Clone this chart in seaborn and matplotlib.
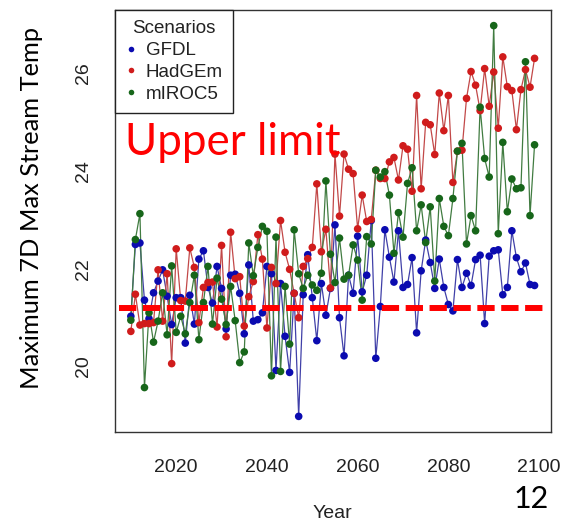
import numpy as np
import pandas as pd
import seaborn as sns
import matplotlib
matplotlib.use("Agg")
import matplotlib.pyplot as plt
from matplotlib.lines import Line2D

# ---- data -----------------------------------------------------------------
years = list(range(2010, 2100))

gfdl = [21.03, 22.50, 22.53, 21.36, 20.98, 21.51, 21.75, 21.98, 21.44, 20.86,
        21.41, 21.41, 20.48, 21.46, 20.87, 22.20, 22.37, 21.62, 21.30, 22.05,
        21.60, 20.77, 21.87, 21.89, 21.50, 20.67, 22.08, 20.93, 20.96, 21.10,
        22.05, 21.90, 19.92, 21.70, 20.62, 19.88, 21.50, 18.98, 21.47, 22.29,
        21.41, 20.53, 21.70, 21.05, 21.60, 22.90, 21.00, 20.22, 21.87, 21.50,
        22.67, 21.53, 21.87, 22.99, 20.17, 21.23, 22.80, 22.24, 21.73, 22.78,
        21.62, 21.68, 22.23, 20.69, 21.96, 22.59, 22.13, 21.60, 22.20, 21.62,
        21.27, 21.14, 22.19, 21.62, 21.91, 21.66, 22.19, 22.28, 20.88, 22.26,
        22.37, 22.39, 21.47, 21.62, 22.78, 22.23, 21.94, 22.12, 21.68, 21.66]

hadgem = [20.72, 21.48, 20.85, 20.88, 20.88, 20.90, 21.98, 20.93, 21.90, 20.06,
          22.41, 21.35, 21.34, 22.43, 22.03, 20.90, 21.62, 21.72, 21.73, 20.81,
          22.48, 20.61, 22.75, 21.80, 21.84, 20.83, 21.43, 21.74, 22.70, 22.20,
          20.79, 22.03, 21.70, 22.99, 22.34, 21.99, 21.50, 21.00, 22.05, 22.21,
          22.44, 23.74, 22.35, 22.81, 21.61, 24.35, 23.08, 24.35, 24.04, 23.95,
          22.82, 23.51, 22.97, 23.01, 24.02, 23.85, 23.85, 24.19, 24.28, 23.82,
          24.52, 24.45, 23.59, 25.55, 23.64, 25.00, 24.95, 24.34, 25.60, 24.83,
          25.55, 23.77, 24.41, 24.43, 25.49, 26.04, 25.76, 25.24, 26.10, 25.33,
          26.03, 24.88, 26.34, 25.73, 25.65, 24.85, 25.67, 26.08, 25.72, 26.31]

miroc5 = [20.95, 22.60, 23.13, 19.57, 21.10, 20.50, 20.93, 21.51, 20.65, 22.06,
          20.70, 21.03, 20.67, 21.31, 21.87, 20.55, 21.31, 22.05, 20.87, 21.81,
          21.38, 20.86, 21.64, 20.94, 20.08, 20.30, 22.53, 21.86, 22.44, 22.87,
          22.77, 19.81, 22.65, 19.90, 21.64, 20.46, 22.80, 21.90, 21.60, 21.87,
          21.67, 21.56, 21.91, 23.80, 22.30, 21.72, 22.63, 21.79, 21.87, 22.49,
          22.18, 21.36, 22.66, 22.51, 24.02, 23.88, 23.99, 23.51, 22.32, 23.15,
          22.65, 23.75, 24.07, 22.78, 23.31, 22.54, 23.27, 21.75, 23.44, 22.87,
          22.68, 23.44, 24.41, 24.57, 22.51, 23.09, 22.78, 25.31, 24.26, 23.88,
          26.98, 22.72, 24.59, 23.17, 23.84, 23.64, 23.66, 26.24, 23.09, 24.54]

scenarios = ["GFDL", "HadGEm", "mIROC5"]
upper_limit = 21.2
x_ticks = [2020, 2040, 2060, 2080, 2100]
y_ticks = [20, 22, 24, 26]

df = pd.DataFrame({
    "Year": years * 3,
    "Temp": gfdl + hadgem + miroc5,
    "Scenario": [s for s in scenarios for _ in years],
})

point_colors = {"GFDL": "#0b0bb0", "HadGEm": "#d01c1c", "mIROC5": "#17661a"}
line_colors = {"GFDL": "#4040a8", "HadGEm": "#c24848", "mIROC5": "#417c41"}

# ---- figure ---------------------------------------------------------------
sns.set_style("white")
plt.rcParams["font.family"] = ["Liberation Sans", "DejaVu Sans"]

fig = plt.figure(figsize=(5.61, 5.22), dpi=100)
ax = fig.add_axes([114.7 / 561, 1 - 432 / 522, 436 / 561, 422 / 522])

sns.lineplot(data=df, x="Year", y="Temp", hue="Scenario", palette=line_colors,
             hue_order=scenarios, linewidth=0.9, legend=False, ax=ax,
             estimator=None, sort=True)
sns.scatterplot(data=df, x="Year", y="Temp", hue="Scenario", palette=point_colors,
                hue_order=scenarios, s=30, linewidth=0, legend=False, ax=ax,
                zorder=3)

# R-style 4% padding on both axes
xmin, xmax = min(years), max(years)
allv = gfdl + hadgem + miroc5
ymin, ymax = min(allv), max(allv)
ax.set_xlim(xmin - 0.04 * (xmax - xmin), xmax + 0.04 * (xmax - xmin))
ax.set_ylim(ymin - 0.04 * (ymax - ymin), ymax + 0.04 * (ymax - ymin))

ax.set_xticks(x_ticks)
ax.set_yticks(y_ticks)
ax.set_xticklabels([str(t) for t in x_ticks])
ax.set_yticklabels([str(t) for t in y_ticks], rotation=90, va="center")
ax.tick_params(axis="x", direction="out", length=7.7, width=1.0,
               color="#333333", labelsize=14, labelcolor="#222222", pad=12)
ax.tick_params(axis="y", direction="out", length=7.7, width=1.0,
               color="#333333", labelsize=14, labelcolor="#222222", pad=9)
ax.set_xlabel("")
ax.set_ylabel("")
for sp in ax.spines.values():
    sp.set_color("#333333")
    sp.set_linewidth(1.0)
    sp.set_visible(True)

# threshold line
ax.axhline(upper_limit, xmin=0.01, xmax=0.987, color="#ff0000", lw=4.3,
           dashes=(2.9, 1.1), zorder=4)

# legend
handles = [Line2D([], [], linestyle="none", marker="o", markersize=4,
                  markerfacecolor=point_colors[s], markeredgewidth=0, label=s)
           for s in scenarios]
leg = ax.legend(handles=handles, title="Scenarios", loc="upper left",
                bbox_to_anchor=(0, 1), borderaxespad=0, fancybox=False,
                frameon=True, fontsize=13.5, title_fontsize=13.5,
                handlelength=0.6, handletextpad=0.5, borderpad=0.55,
                labelspacing=0.25)
leg.get_frame().set_edgecolor("#222222")
leg.get_frame().set_linewidth(1.0)
leg.get_frame().set_alpha(1)
for t in leg.get_texts():
    t.set_color("#222222")
leg.get_title().set_color("#222222")

# annotations
fig.text(332.7 / 561, 1 - 513 / 522, "Year", ha="center", va="center",
         fontsize=14, color="#222222")
fig.text(32 / 561, 1 - 208.5 / 522, "Maximum 7D Max Stream Temp",
         rotation=90, ha="center", va="center", fontsize=18.3,
         family=["Lato", "DejaVu Sans"], color="black")
fig.text(125 / 561, 1 - 155 / 522, "Upper limit", ha="left", va="baseline",
         fontsize=31.6, family=["Lato", "DejaVu Sans"], color="#ff0000")
fig.text(531 / 561, 1 - 499 / 522, "12", ha="center", va="center",
         fontsize=22, family=["Lato", "DejaVu Sans"], color="black")

fig.savefig("out.png", dpi=100)
